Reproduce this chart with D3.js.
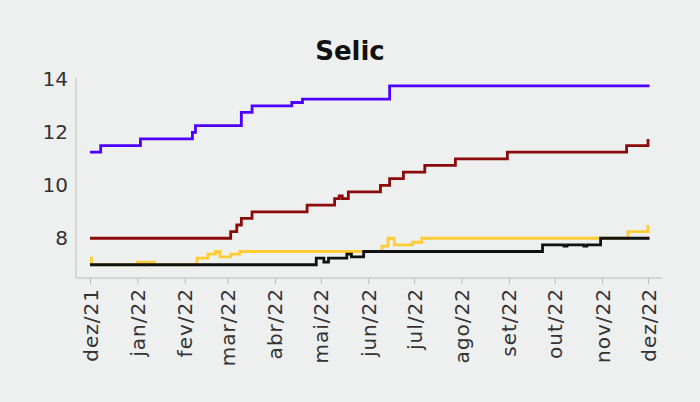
<!DOCTYPE html>
<html><head><meta charset="utf-8">
<script src="https://cdn.jsdelivr.net/npm/d3@7"></script>
<style>
body{margin:0;background:#eeefef;}
text{font-family:"DejaVu Sans",sans-serif;}
</style></head>
<body><div id="chart"></div>
<script>
// step breakpoints: [days since 2021-12-01, value]
const blueSeries = [[0,11.25],[7,11.5],[33,11.75],[67,12.0],[69,12.25],[99,12.75],[106,13.0],[132,13.125],[139,13.25],[196,13.75],[366,13.75]];
const redSeries = [[0,8.0],[92,8.25],[96,8.5],[99,8.75],[106,9.0],[142,9.25],[160,9.5],[163,9.6],[165,9.5],[169,9.75],[190,10.0],[196,10.25],[205,10.5],[219,10.75],[239,11.0],[273,11.25],[351,11.5],[365,11.75]];
const yellowSeries = [[0,7.25],[1,7.0],[31,7.1],[36,7.0],[38,7.1],[42,7.0],[70,7.25],[77,7.4],[82,7.5],[85,7.3],[92,7.4],[98,7.5],[191,7.7],[195,8.0],[199,7.75],[211,7.85],[217,8.0],[352,8.25],[365,8.5]];
const blackSeries = [[0,7.0],[148,7.25],[153,7.1],[156,7.25],[168,7.4],[171,7.3],[179,7.5],[296,7.75],[310,7.7],[312,7.75],[323,7.7],[325,7.75],[334,8.0],[366,8.0]];
const yTicks = [8, 10, 12, 14];
const monthLabels = ["dez/21","jan/22","fev/22","mar/22","abr/22","mai/22","jun/22","jul/22","ago/22","set/22","out/22","nov/22","dez/22"];

const width = 700, height = 402;
const start = new Date(2021, 11, 1);
const day = d => d3.timeDay.offset(start, d);

const svg = d3.select('#chart').append('svg')
  .attr('width', width).attr('height', height);

svg.append('text').attr('x', 350).attr('y', 60)
  .attr('text-anchor', 'middle').attr('font-size', 26).attr('font-weight', 'bold')
  .attr('fill', '#111').text('Selic');

const x = d3.scaleTime().domain([start, new Date(2022, 11, 1)]).range([90, 648]);
const y = d3.scaleLinear().domain([6.5, 14.05]).range([278, 78]);

const monthTicks = d3.timeMonth.range(start, new Date(2022, 11, 2));

const xAxis = svg.append('g').attr('transform', 'translate(0,278)')
  .call(d3.axisBottom(x).tickValues(monthTicks).tickSize(6)
    .tickFormat((d, i) => monthLabels[i]));
xAxis.select('.domain').attr('d', 'M76,0H662').attr('stroke', '#bbb');
xAxis.selectAll('.tick line').attr('stroke', '#bbb');
xAxis.selectAll('.tick text')
  .attr('transform', 'rotate(-90)').attr('x', -10).attr('y', 0).attr('dy', '0.35em')
  .attr('text-anchor', 'end').attr('font-size', 20).attr('fill', '#333')
  .attr('letter-spacing', 1);

const yAxis = svg.append('g').attr('transform', 'translate(76,0)')
  .call(d3.axisLeft(y).tickValues(yTicks).tickSize(0).tickPadding(8));
yAxis.select('.domain').attr('d', 'M0,78V278').attr('stroke', '#bbb');
yAxis.selectAll('.tick text').attr('font-size', 20).attr('fill', '#333');

const line = d3.line().x(d => x(day(d[0]))).y(d => y(d[1])).curve(d3.curveStepAfter);
[[yellowSeries, '#ffcc33'], [blackSeries, '#111111'], [redSeries, '#8b0a0a'], [blueSeries, '#4d00ff']]
  .forEach(([s, c]) => {
    svg.append('path').datum(s).attr('d', line)
      .attr('fill', 'none').attr('stroke', c).attr('stroke-width', 2.8);
  });
</script></body></html>
